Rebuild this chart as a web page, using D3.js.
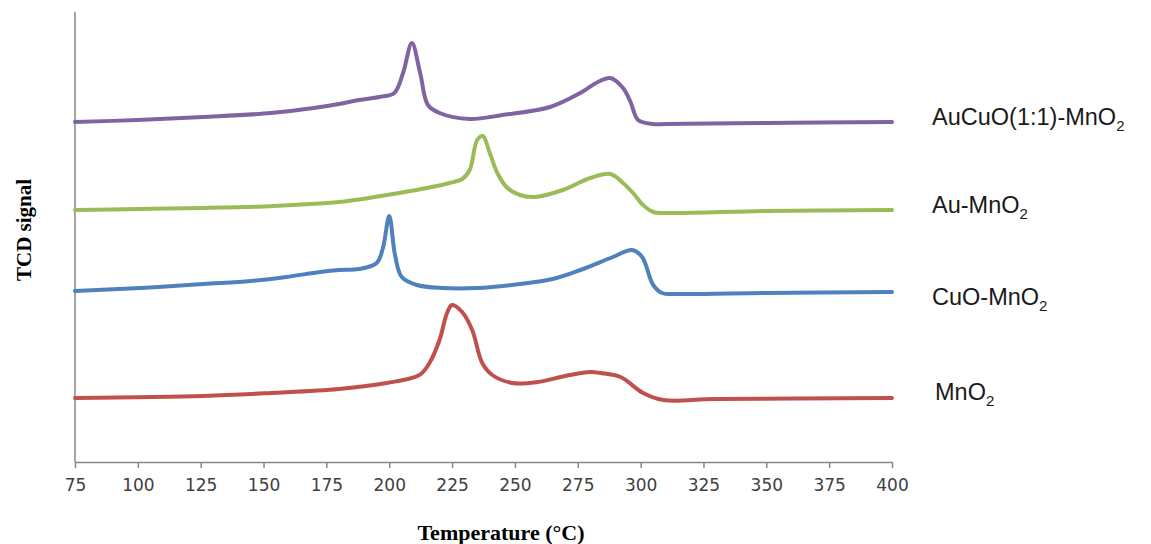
<!DOCTYPE html>
<html>
<head>
<meta charset="utf-8">
<script src="https://cdn.jsdelivr.net/npm/d3@7"></script>
<style>
  body { margin: 0; background: #fff; }
  svg { display: block; }
</style>
</head>
<body>
<svg id="chart" width="1151" height="544"></svg>
<script>
// TPR traces, temperature (°C) and TCD signal (arbitrary units)
var auCuOTemp   = [75,100,126,153,170,180,188,196,202,205.5,209,212.3,215.4,220,232,245,264,276,283,288,293,296,299,305,310,350,400]
var auCuOSignal = [340,342,345,349,354,358,362,365,369,389,419,389,357,349,343,347,355,369,380,384,374,360,342,338,338,339,340]

var auTemp   = [75,100,126,150,165,180,192,204,215,224,229,232,235,237.2,240,243,247,252,258,269,280,288,293,297,301,305,312,350,400]
var auSignal = [252,253,254,255.5,257.5,260,264,269,274,279,283,292,322,326,309,289,274,267,265,272,284,288,279,269,257,250,249,251,252]

var cuOTemp   = [75,101,126,145,159,172.5,180,188,195,197.5,200,202.3,205,211,221,235,252,265,276,289,296.6,300.6,305,308.5,315,350,400]
var cuOSignal = [171,174,178,181,185,190,192,193,199,214,246,207,185,177,174,174,178,183,192,205,212,205,177,169,168,169,170]

var mnO2Temp   = [75,126,153,180,199,212,216,220,223,225,229,233,237,241,249,259,270,280,284,292,301,309,330,400]
var mnO2Signal = [64,66,69,73,79,87,99,122,149,157,150,132,99,87,79,80,86,90,89,85,69,62,63,64]

var xTicks = [75,100,125,150,175,200,225,250,275,300,325,350,375,400]

var seriesNames  = ["AuCuO(1:1)-MnO", "Au-MnO", "CuO-MnO", "MnO"]
var seriesColors = ["#8064A2", "#9BBB59", "#4F81BD", "#C0504D"]

var series = [
    { name: seriesNames[0], temp: auCuOTemp, sig: auCuOSignal, color: seriesColors[0], ly: 125 },
    { name: seriesNames[1], temp: auTemp,    sig: auSignal,    color: seriesColors[1], ly: 213 },
    { name: seriesNames[2], temp: cuOTemp,   sig: cuOSignal,   color: seriesColors[2], ly: 305 },
    { name: seriesNames[3], temp: mnO2Temp,  sig: mnO2Signal,  color: seriesColors[3], ly: 400, lx: 935 }
]

var svg = d3.select("#chart")

var xScale = d3.scaleLinear().domain([75, 400]).range([75, 892]),
    yScale = d3.scaleLinear().domain([0, 450]).range([462, 12]);

// x axis
var xAxis = svg.append("g")
    .attr("transform", "translate(0,462)")
    .call(d3.axisBottom(xScale).tickValues(xTicks).tickSize(6).tickPadding(11).tickSizeOuter(0))
xAxis.select(".domain").attr("stroke", "#868686").attr("stroke-width", 1.5)
xAxis.selectAll(".tick line").attr("stroke", "#868686").attr("stroke-width", 1.5)
xAxis.selectAll(".tick text")
    .style("font-family", "DejaVu Sans")
    .style("font-size", "17px")
    .attr("fill", "#404040")

// y axis (no ticks)
svg.append("line")
    .attr("x1", 75).attr("x2", 75)
    .attr("y1", yScale(450)).attr("y2", yScale(0))
    .attr("stroke", "#868686")
    .attr("stroke-width", 1.5)

// lines
var line = d3.line()
    .x(function(d) { return xScale(d[0]); })
    .y(function(d) { return yScale(d[1]); })
    .curve(d3.curveCatmullRom.alpha(0.5))

series.forEach(function(s) {
    var pts = s.temp.map(function(t, i) { return [t, s.sig[i]]; })
    svg.append("path")
        .datum(pts)
        .attr("d", line)
        .style("fill", "none")
        .style("stroke", s.color)
        .style("stroke-width", 4)
        .style("stroke-linejoin", "round")
        .style("stroke-linecap", "round")

    var t = svg.append("text")
        .attr("x", s.lx || 932)
        .attr("y", s.ly)
        .style("font-family", "Liberation Sans, Arial, sans-serif")
        .style("font-size", "23.5px")
        .attr("fill", "#1a1a1a")
    t.append("tspan").text(s.name)
    t.append("tspan").attr("dy", 6).style("font-size", "15px").text("2")
})

// axis titles
svg.append("text")
    .attr("x", 501)
    .attr("y", 540)
    .attr("text-anchor", "middle")
    .style("font-family", "Liberation Serif, Times New Roman, serif")
    .style("font-weight", "bold")
    .style("font-size", "22px")
    .text("Temperature (°C)")

svg.append("text")
    .attr("text-anchor", "middle")
    .attr("transform", "translate(31,230)rotate(-90)")
    .style("font-family", "Liberation Serif, Times New Roman, serif")
    .style("font-weight", "bold")
    .style("font-size", "21px")
    .text("TCD signal")
</script>
</body>
</html>
